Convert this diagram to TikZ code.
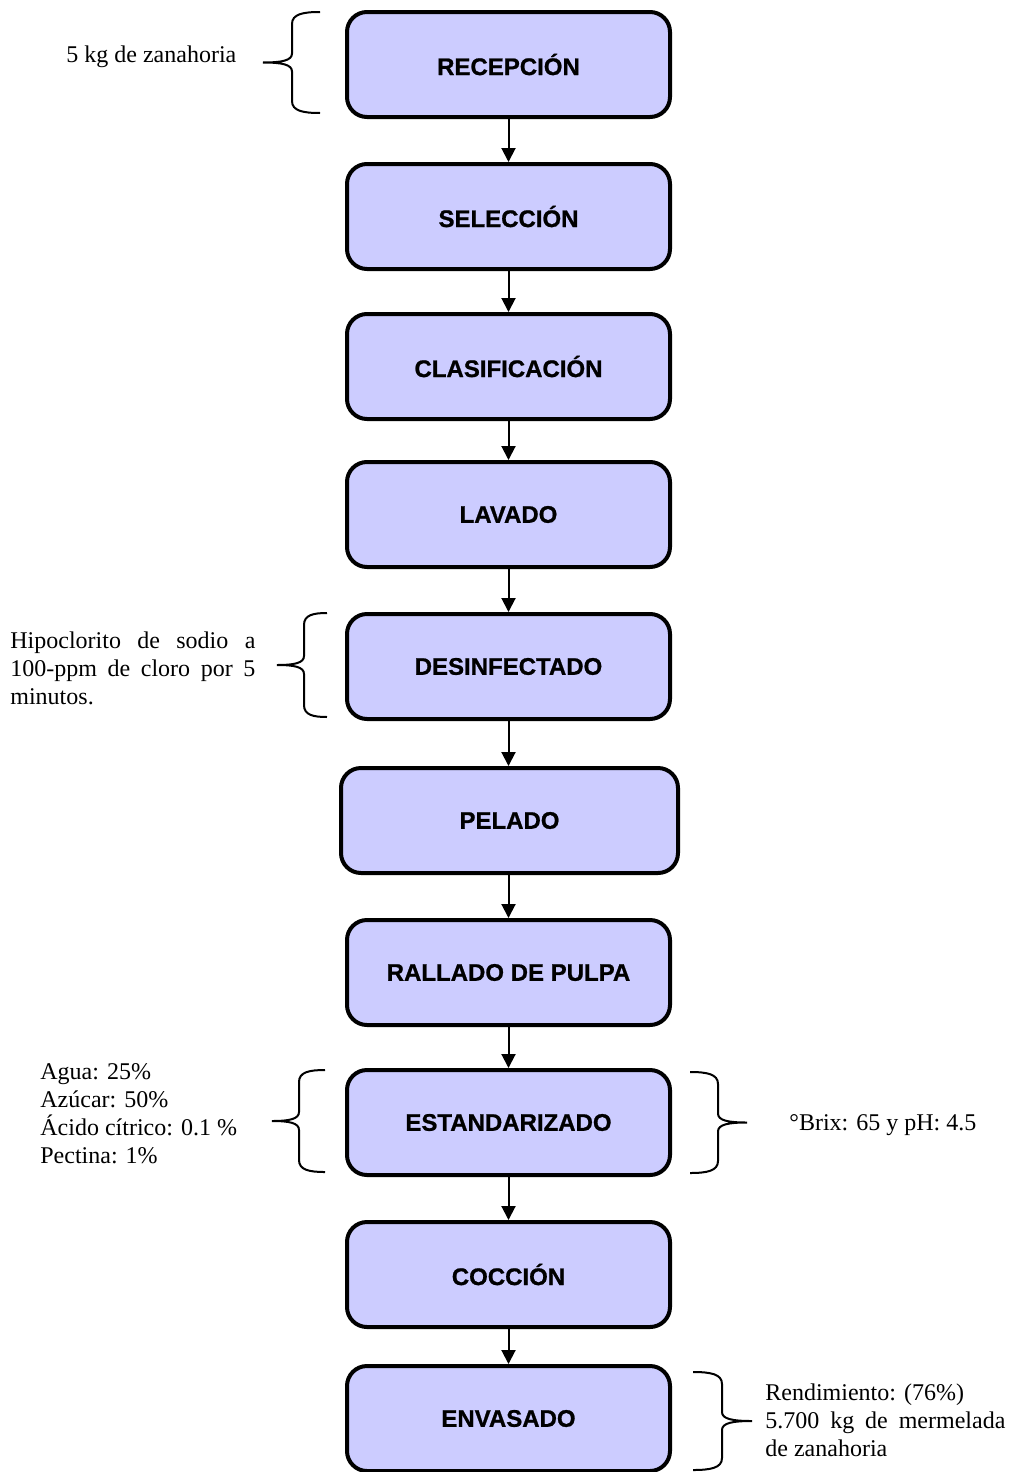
\documentclass[tikz,border=0pt]{standalone}
\usepackage{fontspec}
\setmainfont{Liberation Serif}
\newfontfamily\boxfont{Liberation Sans}[UprightFont=* Bold, FakeBold=0.9]
\usetikzlibrary{arrows.meta}
\definecolor{boxfill}{RGB}{204,204,255}
\newcommand{\drawcurly}[5]{% #1 end x, #2 vertical x, #3 tip x, #4 top y, #5 bottom y
  \pgfmathsetmacro{\cmid}{(#4+#5)/2}%
  \pgfmathsetmacro{\cend}{#2+0.4*(#1-#2)}%
  \pgfmathsetmacro{\ctip}{#2+0.35*(#3-#2)}%
  \draw[bracestyle] (#1,#4) .. controls (\cend,#4) and (#2,{#4+2}) .. (#2,{#4+12})
    -- (#2,{\cmid-9}) .. controls (#2,{\cmid-2}) and (\ctip,\cmid) .. (#3,\cmid)
    .. controls (\ctip,\cmid) and (#2,{\cmid+2}) .. (#2,{\cmid+9})
    -- (#2,{#5-12}) .. controls (#2,{#5-2}) and (\cend,#5) .. (#1,#5);
}
\tikzset{
  stepbox/.style={draw=black, line width=2pt, fill=boxfill, rounded corners=10pt,
    minimum width=161.5pt, minimum height=52.5pt, inner sep=0pt,
    font=\boxfont\fontsize{12}{14}\selectfont},
  flow/.style={line width=1pt, -{Triangle[width=7pt,length=7pt]}},
  bracestyle/.style={line width=1pt},
  note/.style={inner sep=0pt, font=\fontsize{12}{14}\selectfont}
}
\begin{document}
\begin{tikzpicture}[x=0.5pt, y=-0.5pt]
\useasboundingbox (0,0) rectangle (1012,1472);
\node[stepbox] (rec) at (508.5,64.5) {RECEPCIÓN};
\node[stepbox] (sel) at (508.5,216.5) {SELECCIÓN};
\node[stepbox] (cla) at (508.5,366.5) {CLASIFICACIÓN};
\node[stepbox] (lav) at (508.5,514.5) {LAVADO};
\node[stepbox] (des) at (508.5,666.5) {DESINFECTADO};
\node[stepbox, minimum width=168.5pt] (pel) at (509.5,820.5) {PELADO};
\node[stepbox] (ral) at (508.5,972.5) {RALLADO DE PULPA};
\node[stepbox] (est) at (508.5,1122.5) {ESTANDARIZADO};
\node[stepbox] (coc) at (508.5,1274.5) {COCCIÓN};
\node[stepbox] (env) at (508.5,1418.5) {ENVASADO};

\draw[flow] (rec) -- (sel);
\draw[flow] (sel) -- (cla);
\draw[flow] (cla) -- (lav);
\draw[flow] (lav) -- (des);
\draw[flow] (des.south) -- (des.south |- pel.north);
\draw[flow] (pel.south -| ral.north) -- (ral.north);
\draw[flow] (ral) -- (est);
\draw[flow] (est) -- (coc);
\draw[flow] (coc) -- (env);

\drawcurly{320}{292}{263}{12}{113}
\node[note, anchor=base west] (t1) at (66,62) {5 kg de zanahoria};

\drawcurly{327}{304}{277}{613}{717}
\node[note, anchor=west, text width=122.5pt, align=justify] (t2) at (10,668)
  {Hipoclorito de sodio a 100-ppm de cloro por 5 minutos.};

\drawcurly{325}{299}{272}{1070}{1172}
\node[note, anchor=west, align=left] (t3) at (40,1114)
  {Agua: 25\%\\Azúcar: 50\%\\Ácido cítrico: 0.1 \%\\Pectina: 1\%};

\drawcurly{690}{718}{747}{1072}{1173}
\node[note, anchor=base west] (t4) at (789,1130) {°Brix: 65 y pH: 4.5};

\drawcurly{693}{722}{752}{1372}{1470}
\node[note, anchor=west, text width=120pt, align=justify] (t5) at (765,1420)
  {Rendimiento: (76\%)\\5.700 kg de mermelada de zanahoria};
\end{tikzpicture}
\end{document}
